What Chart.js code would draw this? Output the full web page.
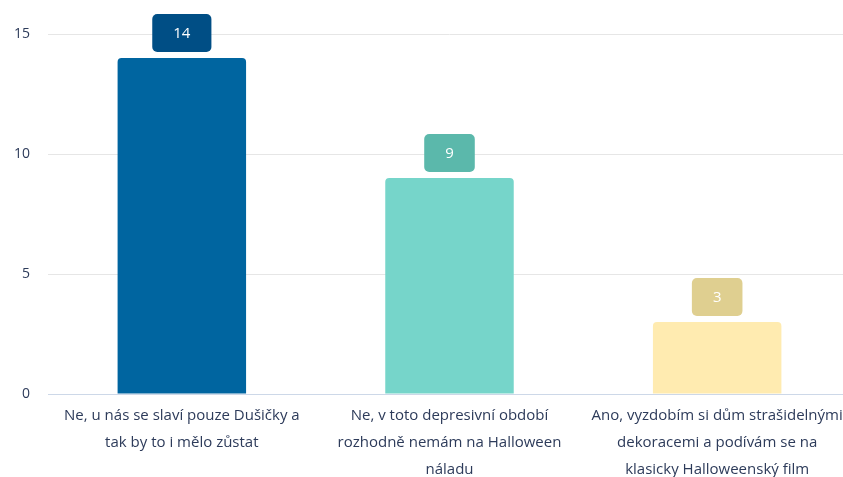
<!DOCTYPE html>
<html>
<head>
<meta charset="utf-8">
<script src="https://cdn.jsdelivr.net/npm/chart.js@4/dist/chart.umd.min.js"></script>
<style>
  html, body { margin: 0; padding: 0; background: #fff; overflow: hidden; }
  #wrap { width: 851px; height: 491px; }
</style>
</head>
<body>
<div id="wrap"><canvas id="answersChart"></canvas></div>
<script>
"use strict";

// categories (already split into lines like the original)
const answers = [
    ["Ne, u nás se slaví pouze Dušičky a", "tak by to i mělo zůstat"],
    ["Ne, v toto depresivní období", "rozhodně nemám na Halloween", "náladu"],
    ["Ano, vyzdobím si dům strašidelnými", "dekoracemi a podívám se na", "klasicky Halloweenský film"]
];
const votes = [14, 9, 3];
const yTicks = [0, 5, 10, 15];

const barColors = ['#0065a0', '#76d5ca', '#ffebb0'];
const badgeColors = ['#004e85', '#5bb8ab', '#dfcf90'];

const textColor = '#2d3b5a';
const fontFamily = "'Open Sans', 'Noto Sans', sans-serif";

// draws the value "badge" above each bar
const valueBadges = {
    id: 'valueBadges',
    afterDatasetsDraw(chart) {
        const ctx = chart.ctx;
        const meta = chart.getDatasetMeta(0);
        ctx.save();
        ctx.font = "15px " + fontFamily;
        ctx.textAlign = 'center';
        ctx.textBaseline = 'middle';
        meta.data.forEach((bar, i) => {
            const label = String(votes[i]);
            const w = ctx.measureText(label).width + 42;
            const h = 38;
            const x = bar.x - w / 2;
            const y = bar.y - 6 - h;
            ctx.fillStyle = badgeColors[i];
            ctx.beginPath();
            ctx.roundRect(x, y, w, h, 5);
            ctx.fill();
            ctx.fillStyle = '#ffffff';
            ctx.fillText(label, bar.x, y + h / 2 + 1);
        });
        ctx.restore();
    }
};

const ctx = document.getElementById('answersChart');

const chart = new Chart(ctx, {
    type: 'bar',
    data: {
        labels: answers,
        datasets: [{
            data: votes,
            backgroundColor: barColors,
            borderRadius: 4,
            borderSkipped: 'start',
            barPercentage: 0.48,
            categoryPercentage: 1
        }]
    },
    options: {
        responsive: true,
        maintainAspectRatio: false,
        animation: false,
        events: [],
        layout: {
            padding: { top: 34, right: 0, left: 0, bottom: 0 }
        },
        plugins: {
            legend: { display: false },
            tooltip: { enabled: false }
        },
        scales: {
            x: {
                grid: { display: false, drawTicks: false },
                border: { color: '#cdd8e8', width: 1 },
                ticks: {
                    color: textColor,
                    padding: 8,
                    maxRotation: 0,
                    autoSkip: false,
                    font: { family: fontFamily, size: 15, lineHeight: 1.8 }
                }
            },
            y: {
                min: 0,
                max: 15,
                afterBuildTicks: (scale) => {
                    scale.ticks = yTicks.map(v => ({ value: v }));
                },
                afterFit: (scale) => { scale.width = 48; },
                grid: { color: '#e6e6e6', drawTicks: false },
                border: { display: false },
                ticks: {
                    color: textColor,
                    padding: 18,
                    font: { family: fontFamily, size: 14 }
                }
            }
        }
    },
    plugins: [valueBadges]
});
</script>
</body>
</html>
